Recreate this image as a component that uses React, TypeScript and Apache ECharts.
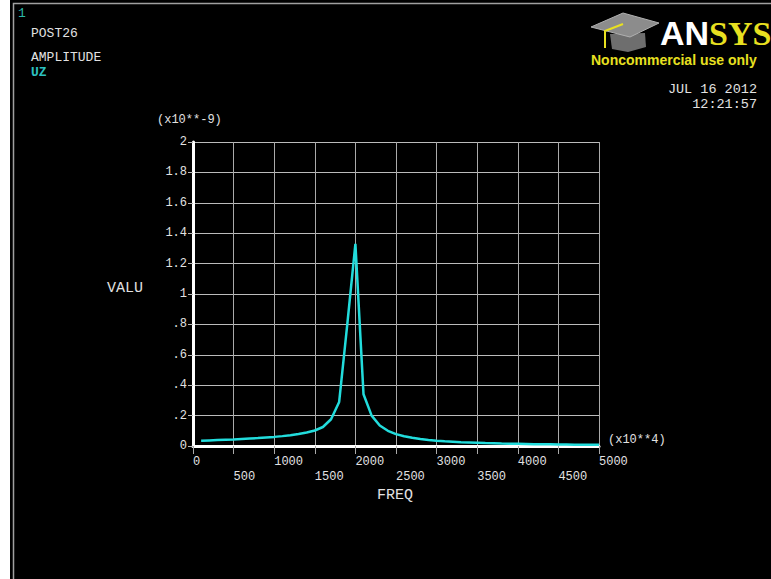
import React, { useEffect, useRef } from "react";
import * as echarts from "echarts";

const freq = [
  100, 200, 300, 400, 500, 600, 700, 800, 900, 1000,
  1100, 1200, 1300, 1400, 1500, 1600, 1700, 1800, 1900, 2000,
  2100, 2200, 2300, 2400, 2500, 2600, 2700, 2800, 2900, 3000,
  3100, 3200, 3300, 3400, 3500, 3600, 3700, 3800, 3900, 4000,
  4100, 4200, 4300, 4400, 4500, 4600, 4700, 4800, 4900, 5000,
];
// amplitude UZ, in units of 1e-9
const amplitude = [
  0.035, 0.037, 0.039, 0.041, 0.043, 0.046, 0.049, 0.052, 0.056, 0.06,
  0.065, 0.071, 0.079, 0.089, 0.102, 0.125, 0.176, 0.29, 0.8, 1.33,
  0.34, 0.2, 0.135, 0.1, 0.078, 0.064, 0.054, 0.046, 0.04, 0.035,
  0.031, 0.028, 0.025, 0.023, 0.021, 0.019, 0.018, 0.016, 0.015, 0.014,
  0.013, 0.012, 0.012, 0.011, 0.01, 0.01, 0.009, 0.009, 0.008, 0.008,
];
const headerLines = ["POST26", "AMPLITUDE"];
const curveName = "UZ";
const dateText = "JUL 16 2012";
const timeText = "12:21:57";

const MONO = "'Liberation Mono', 'DejaVu Sans Mono', monospace";
const TXT = "#e2e2e2";

export default function App() {
  const ref = useRef<HTMLDivElement>(null);
  useEffect(() => {
    if (!ref.current) return;
    const chart = echarts.init(ref.current, null, { renderer: "svg" });
    const data = freq.map((f, i) => [f, amplitude[i]]);
    chart.setOption({
      animation: false,
      backgroundColor: "#000",
      grid: { left: 193, right: 172, top: 142, bottom: 133, outerBoundsMode: "none" },
      xAxis: {
        type: "value",
        min: 0,
        max: 5000,
        interval: 500,
        axisLine: { show: true, onZero: false, lineStyle: { color: "#fff", width: 3 } },
        axisTick: { show: true, inside: false, length: 8, lineStyle: { color: "#aaa", width: 1 } },
        splitLine: { show: true, lineStyle: { color: "#aaa", width: 1 } },
        axisLabel: {
          color: TXT,
          fontFamily: MONO,
          fontSize: 12,
          margin: 8,
          lineHeight: 15,
          align: "left",
          showMinLabel: true,
          showMaxLabel: true,
          formatter: (v: number) => ((v / 500) % 2 === 1 ? "\n" + v : String(v)),
        },
      },
      yAxis: {
        type: "value",
        min: 0,
        max: 2,
        interval: 0.2,
        axisLine: { show: true, lineStyle: { color: "#fff", width: 3 } },
        axisTick: { show: true, inside: false, length: 5, lineStyle: { color: "#bbb", width: 1 } },
        splitLine: { show: true, lineStyle: { color: "#bbb", width: 1 } },
        axisLabel: {
          color: TXT,
          fontFamily: MONO,
          fontSize: 12,
          margin: 6,
          padding: [0, 0, 4, 0],
          formatter: (v: number) => {
            const r = Math.round(v * 10) / 10;
            if (r === 0) return "0";
            return String(r).replace(/^0\./, ".");
          },
        },
      },
      series: [
        {
          type: "line",
          name: curveName,
          data,
          showSymbol: false,
          lineStyle: { color: "#22dcdc", width: 2.5 },
          z: 5,
        },
      ],
      graphic: [
        { type: "rect", shape: { x: 0, y: 0, width: 10, height: 579 }, style: { fill: "#fff" } },
        {
          type: "polyline",
          shape: { points: [[13.5, 579], [13.5, 3.5], [771, 3.5]] },
          style: { stroke: "#a0a0a0", lineWidth: 1.5, fill: "none" },
        },
        { type: "text", x: 18, y: 13, style: { text: "1", fill: "#2bb8a8", font: `13px ${MONO}`, verticalAlign: "middle" } },
        { type: "text", x: 31, y: 33, style: { text: headerLines[0], fill: TXT, font: `13px ${MONO}`, verticalAlign: "middle" } },
        { type: "text", x: 31, y: 57, style: { text: headerLines[1], fill: TXT, font: `13px ${MONO}`, verticalAlign: "middle" } },
        { type: "text", x: 31, y: 72, style: { text: curveName, fill: "#2cc0c0", font: `bold 13px ${MONO}`, verticalAlign: "middle" } },
        { type: "text", x: 757, y: 89, style: { text: dateText, fill: TXT, font: `13.5px ${MONO}`, align: "right", verticalAlign: "middle" } },
        { type: "text", x: 757, y: 104, style: { text: timeText, fill: TXT, font: `13.5px ${MONO}`, align: "right", verticalAlign: "middle" } },
        { type: "text", x: 157, y: 120, style: { text: "(x10**-9)", fill: TXT, font: `12px ${MONO}`, verticalAlign: "middle" } },
        { type: "text", x: 608, y: 440, style: { text: "(x10**4)", fill: TXT, font: `12px ${MONO}`, verticalAlign: "middle" } },
        { type: "text", x: 107, y: 288, style: { text: "VALU", fill: TXT, font: `15px ${MONO}`, verticalAlign: "middle" } },
        { type: "text", x: 377, y: 495, style: { text: "FREQ", fill: TXT, font: `15px ${MONO}`, verticalAlign: "middle" } },
        // ANSYS logo: graduation cap
        {
          type: "polygon",
          shape: { points: [[610, 34], [612, 49], [628, 52], [646, 47], [645, 33]] },
          style: { fill: "#6e6e6e" },
        },
        {
          type: "polygon",
          shape: { points: [[591, 27], [623, 13], [659, 23], [630, 37]] },
          style: { fill: "#8c8c8c", stroke: "#b0b0b0", lineWidth: 1 },
        },
        {
          type: "polyline",
          shape: { points: [[623, 24], [605, 31], [605, 48]] },
          style: { stroke: "#e8e020", lineWidth: 2, fill: "none" },
        },
        {
          type: "text",
          x: 660,
          y: 33,
          style: {
            text: "{a|AN}{s|SYS}",
            verticalAlign: "middle",
            rich: {
              a: { fill: "#fff", font: "bold 34px 'Liberation Sans', Arial, sans-serif" },
              s: { fill: "#e8e020", font: "bold 34px 'Liberation Serif', 'Times New Roman', serif" },
            },
          },
        },
        {
          type: "text",
          x: 591,
          y: 60,
          style: { text: "Noncommercial use only", fill: "#e8e020", font: "bold 14px 'Liberation Sans', Arial, sans-serif", verticalAlign: "middle" },
        },
      ],
    });
    return () => chart.dispose();
  }, []);
  return (
    <div
      ref={ref}
      style={{ position: "fixed", left: 0, top: 0, width: 771, height: 579 }}
    />
  );
}
